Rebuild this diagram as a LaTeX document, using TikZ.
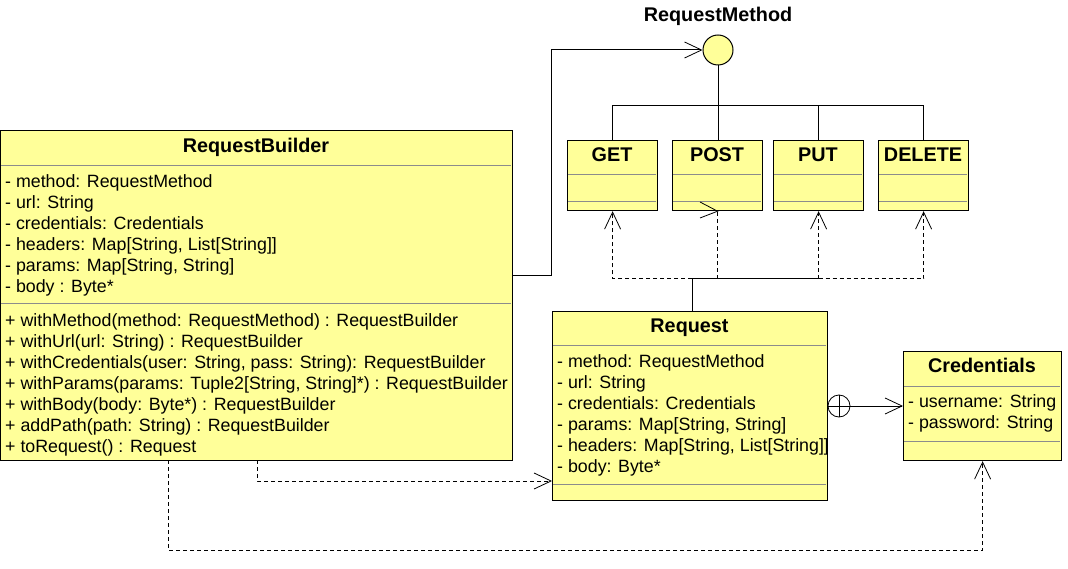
\documentclass[tikz,border=0pt]{standalone}
\usepackage{fontspec}
\setmainfont{Liberation Sans}
\usetikzlibrary{arrows.meta}

\definecolor{umlyellow}{RGB}{255,255,153}
\definecolor{sepgray}{RGB}{140,140,140}

\tikzset{
  classbox/.style={draw=black, line width=1.2pt, fill=umlyellow, inner sep=0pt, anchor=north west},
  sepline/.style={draw=sepgray, line width=1pt},
  title/.style={font=\fontsize{19.8}{23}\selectfont\bfseries, anchor=base, inner sep=0pt},
  member/.style={font=\fontsize{17.8}{21}\selectfont, anchor=base west, inner sep=0pt},
  link/.style={draw=black, line width=1pt},
  assoc/.style={link, -{Straight Barb[length=17pt,width=16pt,line width=0.8pt]}},
  dep/.style={link, dash pattern=on 4pt off 3pt, -{Straight Barb[length=17pt,width=16pt,line width=0.8pt]}},
}

\begin{document}
\begin{tikzpicture}[x=1pt,y=-1pt]
\useasboundingbox (0,0) rectangle (1068,569);

% we draw the RequestBuilder class
\node[classbox, minimum width=512pt, minimum height=330pt] (builder) at (0,130) {};
\draw[sepline] (1,166) -- (511,166);
\draw[sepline] (1,304) -- (511,304);
\node[title] (buildername) at (256,153) {RequestBuilder};
\node[member] (b1) at (5,187.5) {- method: RequestMethod};
\node[member] (b2) at (5,208.5) {- url: String};
\node[member] (b3) at (5,229.5) {- credentials: Credentials};
\node[member] (b4) at (5,250.5) {- headers: Map[String, List[String]]};
\node[member] (b5) at (5,271.5) {- params: Map[String, String]};
\node[member] (b6) at (5,292.5) {- body : Byte*};
\node[member] (b7) at (5,326.5) {+ withMethod(method: RequestMethod) : RequestBuilder};
\node[member] (b8) at (5,347.5) {+ withUrl(url: String) : RequestBuilder};
\node[member] (b9) at (5,368.5) {+ withCredentials(user: String, pass: String): RequestBuilder};
\node[member] (b10) at (5,389.5) {+ withParams(params: Tuple2[String, String]*) : RequestBuilder};
\node[member] (b11) at (5,410.5) {+ withBody(body: Byte*) : RequestBuilder};
\node[member] (b12) at (5,431.5) {+ addPath(path: String) : RequestBuilder};
\node[member] (b13) at (5,452.5) {+ toRequest() : Request};

% we draw the Request class
\node[classbox, minimum width=275pt, minimum height=189pt] (request) at (552,311) {};
\draw[sepline] (553,345) -- (826,345);
\draw[sepline] (553,484) -- (826,484);
\node[title] (requestname) at (689.5,332) {Request};
\node[member] (r1) at (557,367.5) {- method: RequestMethod};
\node[member] (r2) at (557,388.5) {- url: String};
\node[member] (r3) at (557,409.5) {- credentials: Credentials};
\node[member] (r4) at (557,430.5) {- params: Map[String, String]};
\node[member] (r5) at (557,451.5) {- headers: Map[String, List[String]]};
\node[member] (r6) at (557,472.5) {- body: Byte*};

% we draw the Credentials class
\node[classbox, minimum width=158pt, minimum height=109pt] (cred) at (903,351) {};
\draw[sepline] (904,386) -- (1060,386);
\draw[sepline] (904,441) -- (1060,441);
\node[title] (credname) at (982,372) {Credentials};
\node[member] (c1) at (908,407.5) {- username: String};
\node[member] (c2) at (908,428.5) {- password: String};

% we draw the RequestMethod interface and its cases
\node[draw=black, line width=1pt, fill=umlyellow, circle, minimum size=30pt, inner sep=0pt] (rm) at (718,50) {};
\node[title] (rmname) at (718,22) {RequestMethod};

\node[classbox, minimum width=90pt, minimum height=70pt] (get) at (567,140) {};
\node[classbox, minimum width=90pt, minimum height=70pt] (post) at (672,140) {};
\node[classbox, minimum width=90pt, minimum height=70pt] (put) at (773,140) {};
\node[classbox, minimum width=90pt, minimum height=70pt] (delete) at (878,140) {};
\draw[sepline] (568,175) -- (656,175) (568,202) -- (656,202);
\draw[sepline] (673,175) -- (761,175) (673,202) -- (761,202);
\draw[sepline] (774,175) -- (862,175) (774,202) -- (862,202);
\draw[sepline] (879,175) -- (967,175) (879,202) -- (967,202);
\node[title] (getname) at (612,162) {GET};
\node[title] (postname) at (717,162) {POST};
\node[title] (putname) at (818,162) {PUT};
\node[title] (deletename) at (923,162) {DELETE};

% we join the cases to the interface
\coordinate (rmbar) at (718,106);
\draw[link] (rm.south) -- (rm.south |- post.north);
\draw[link] (get.north) -- (get.north |- rmbar) -| (delete.north);
\draw[link] (put.north) -- (put.north |- rmbar);

% we join Request to the cases
\coordinate (reqstem) at (692,311);
\coordinate (reqjoin) at (692,279);
\draw[link] (reqstem) -- (reqjoin) -- (reqjoin -| put.south);
\draw[dep] (reqjoin) -| (get.south);
\draw[dep] (reqjoin -| put.south) -- (put.south);
\draw[dep] (reqjoin -| put.south) -| (delete.south);
\draw[link, dash pattern=on 4pt off 3pt] (reqjoin -| post.south) -- (post.south);
\draw[link, line width=0.8pt] (700,202) -- (post.south) -- (700,218);

% we draw the builder links
\coordinate (rbout) at (512,276);
\draw[assoc] (rbout) -- (551,276) |- (rm.west);

\coordinate (rbreq) at (257,460);
\draw[dep] (rbreq) |- (request.west |- 0,481);

\coordinate (rbcred) at (168,460);
\draw[dep] (rbcred) -- (rbcred |- 0,550) -| (cred.south);

% we draw the nesting link
\node[draw=black, line width=0.8pt, circle, minimum size=22pt, inner sep=0pt] (nest) at (839,406) {};
\draw[line width=0.8pt] (nest.north) -- (nest.south) (nest.west) -- (nest.east);
\draw[assoc] (nest.east) -- (cred.west |- nest);

\end{tikzpicture}
\end{document}
